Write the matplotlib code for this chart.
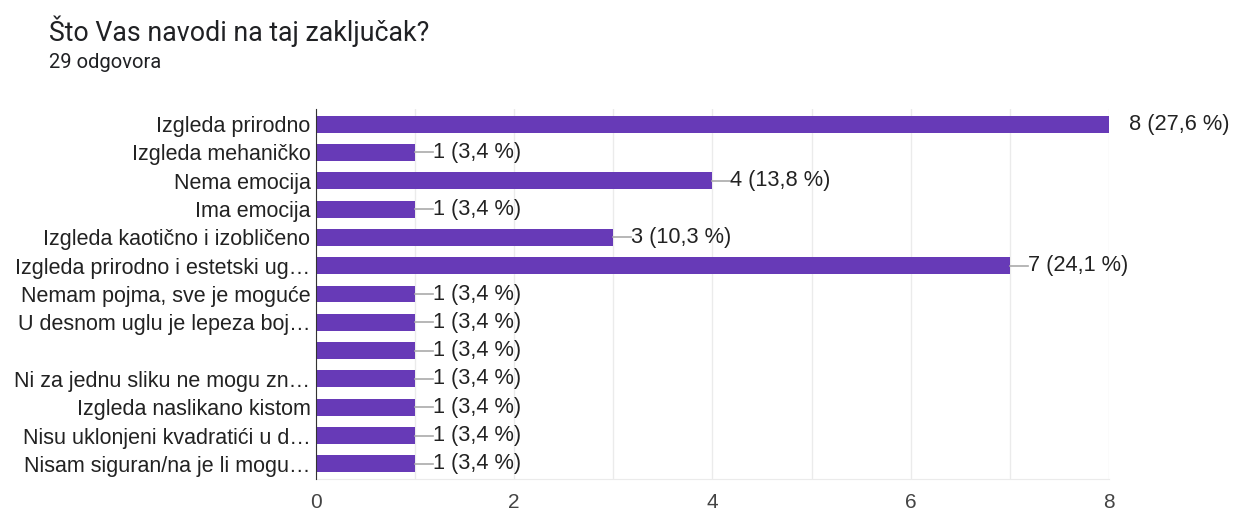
import matplotlib.pyplot as plt
import numpy as np

plt.rcParams['font.family'] = ['Liberation Sans', 'DejaVu Sans']

# Answers and counts
labels = [
    'Izgleda prirodno',
    'Izgleda mehaničko',
    'Nema emocija',
    'Ima emocija',
    'Izgleda kaotično i izobličeno',
    'Izgleda prirodno i estetski ug…',
    'Nemam pojma, sve je moguće',
    'U desnom uglu je lepeza boj…',
    '',
    'Ni za jednu sliku ne mogu zn…',
    'Izgleda naslikano kistom',
    'Nisu uklonjeni kvadratići u d…',
    'Nisam siguran/na je li mogu…',
]
counts = [8, 1, 4, 1, 3, 7, 1, 1, 1, 1, 1, 1, 1]
value_texts = ['8 (27,6 %)', '1 (3,4 %)', '4 (13,8 %)', '1 (3,4 %)', '3 (10,3 %)',
               '7 (24,1 %)', '1 (3,4 %)', '1 (3,4 %)', '1 (3,4 %)', '1 (3,4 %)',
               '1 (3,4 %)', '1 (3,4 %)', '1 (3,4 %)']
xticks = [0, 2, 4, 6, 8]

fig = plt.figure(figsize=(12.39, 5.13), dpi=100)
ax = fig.add_axes([0.255, 0.0663, 0.64, 0.7212])

y = np.arange(len(labels))
ax.barh(y, counts, height=0.6, color='#673ab7', zorder=3)

ax.set_xlim(0, 8)
ax.set_ylim(len(labels) - 0.47, -0.53)
ax.set_xticks(xticks)
ax.set_xticks(range(9), minor=True)
ax.grid(axis='x', which='both', color='#ebebeb', linewidth=1, zorder=0)
ax.tick_params(axis='x', length=0, labelsize=15, labelcolor='#444444', pad=10)
ax.tick_params(axis='x', which='minor', length=0)
ax.set_yticks(y)
ax.set_yticklabels(labels, fontsize=15.5, color='#222222')
ax.tick_params(axis='y', length=0, pad=4)

for s in ['top', 'right']:
    ax.spines[s].set_visible(False)
ax.spines['bottom'].set_color('#ebebeb')
ax.spines['left'].set_color('#333333')
ax.spines['left'].set_zorder(4)

# connector line + label for each bar
px = 8 / (0.64 * 1239)
for yi, c, t in zip(y, counts, value_texts):
    if c < 8:
        ax.plot([c, c + 18 * px], [yi, yi], color='#aaaaaa', linewidth=1.2,
                zorder=3, clip_on=False)
    ax.text(c + (18 if c < 8 else 20) * px, yi, t, va='center', ha='left',
            fontsize=15.7, color='#222222', clip_on=False)

fig.text(0.0395, 0.94, 'Što Vas navodi na taj zaključak?', fontsize=19.3,
         color='#202124', va='center', family='Roboto')
fig.text(0.0395, 0.878, '29 odgovora', fontsize=14.5, color='#202124',
         va='center', family='Roboto')

fig.savefig('out.png', dpi=100)
